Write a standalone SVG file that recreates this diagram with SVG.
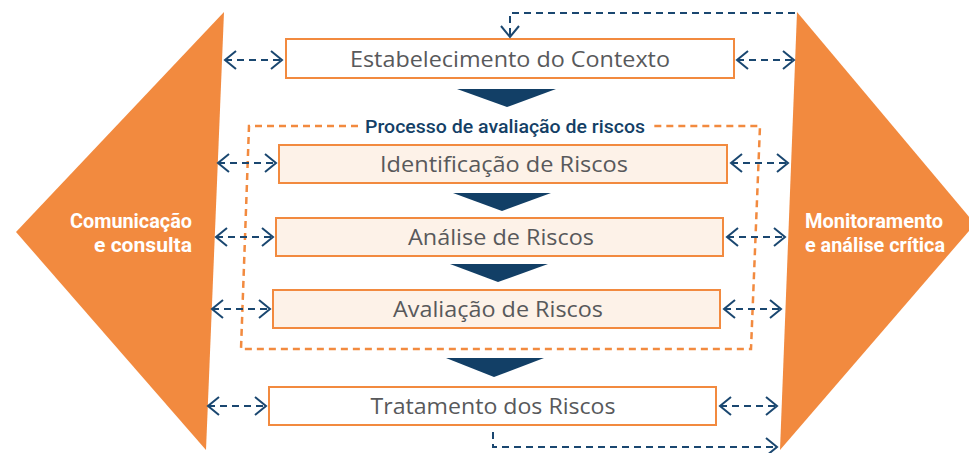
<svg xmlns="http://www.w3.org/2000/svg" width="969" height="453" viewBox="0 0 969 453">
<style>
.side{fill:#f28a3f}
.box{stroke:#f28a3f;stroke-width:2}
.w{fill:#ffffff}
.p{fill:#fdf2e8}
.bt{font-family:"Open Sans","Liberation Sans",sans-serif;font-size:21px;fill:#58595b;text-anchor:middle}
.lt{font-family:Roboto,"Liberation Sans",sans-serif;font-size:19.5px;font-weight:700;fill:#ffffff}
.tri{fill:#123f66}
.da{fill:none;stroke:#1a4770;stroke-width:2;stroke-dasharray:7 5}
.grp{fill:none;stroke:#f28a3f;stroke-width:2.5;stroke-dasharray:7 5}
.ttl{font-family:Roboto,"Liberation Sans",sans-serif;font-size:19px;font-weight:500;fill:#143f66;text-anchor:middle}
</style>
<defs>
<marker id="ah" markerUnits="userSpaceOnUse" markerWidth="24" markerHeight="24" viewBox="-14 -12 16 24" refX="0" refY="0" orient="auto-start-reverse">
<path d="M-11,-9 L0,0 L-11,9" fill="none" stroke="#1a4770" stroke-width="2"/>
</marker>
</defs>

<g id="comunicacao">
<polygon class="side" points="224,12 206,450 16,232"/>
<text class="lt" x="192" y="228" text-anchor="end" textLength="122" lengthAdjust="spacingAndGlyphs">Comunicação</text>
<text class="lt" x="192" y="252" text-anchor="end" textLength="98" lengthAdjust="spacingAndGlyphs">e consulta</text>
</g>

<g id="monitoramento">
<polygon class="side" points="797,12 975,224 780,450"/>
<text class="lt" x="805" y="228" textLength="138" lengthAdjust="spacingAndGlyphs">Monitoramento</text>
<text class="lt" x="805" y="252" textLength="140" lengthAdjust="spacingAndGlyphs">e análise crítica</text>
</g>

<g id="processo">
<path class="grp" d="M358,126 L249,126 L241,349 L751,349 L760,126 L652,126"/>
<text class="ttl" x="505" y="133" textLength="280" lengthAdjust="spacingAndGlyphs">Processo de avaliação de riscos</text>
</g>

<g id="contexto">
<rect class="box w" x="286" y="39" width="448" height="39"/>
<text class="bt" x="510" y="67" textLength="320" lengthAdjust="spacingAndGlyphs">Estabelecimento do Contexto</text>
</g>

<g id="identificacao">
<rect class="box p" x="279" y="145" width="448" height="38"/>
<text class="bt" x="504" y="172" textLength="248" lengthAdjust="spacingAndGlyphs">Identificação de Riscos</text>
</g>

<g id="analise">
<rect class="box p" x="276" y="218" width="447" height="38"/>
<text class="bt" x="501" y="245" textLength="186" lengthAdjust="spacingAndGlyphs">Análise de Riscos</text>
</g>

<g id="avaliacao">
<rect class="box p" x="273" y="290" width="447" height="38"/>
<text class="bt" x="498" y="317" textLength="210" lengthAdjust="spacingAndGlyphs">Avaliação de Riscos</text>
</g>

<g id="tratamento">
<rect class="box w" x="269" y="387" width="447" height="38"/>
<text class="bt" x="493" y="414" textLength="245" lengthAdjust="spacingAndGlyphs">Tratamento dos Riscos</text>
</g>

<g id="connectors">
<polygon class="tri" points="457,89 556,89 507,107"/>
<polygon class="tri" points="453,193 551,193 502,211"/>
<polygon class="tri" points="450,264 548,264 498,282"/>
<polygon class="tri" points="446,358 544,358 494,377"/>

<line class="da" x1="225" y1="60" x2="282" y2="60" marker-start="url(#ah)" marker-end="url(#ah)"/>
<line class="da" x1="218" y1="163" x2="276" y2="163" marker-start="url(#ah)" marker-end="url(#ah)"/>
<line class="da" x1="216" y1="237" x2="273" y2="237" marker-start="url(#ah)" marker-end="url(#ah)"/>
<line class="da" x1="212" y1="309" x2="270" y2="309" marker-start="url(#ah)" marker-end="url(#ah)"/>
<line class="da" x1="208" y1="406" x2="266" y2="406" marker-start="url(#ah)" marker-end="url(#ah)"/>

<line class="da" x1="737" y1="60" x2="794" y2="60" marker-start="url(#ah)" marker-end="url(#ah)"/>
<line class="da" x1="731" y1="163" x2="788" y2="163" marker-start="url(#ah)" marker-end="url(#ah)"/>
<line class="da" x1="727" y1="237" x2="785" y2="237" marker-start="url(#ah)" marker-end="url(#ah)"/>
<line class="da" x1="724" y1="309" x2="781" y2="309" marker-start="url(#ah)" marker-end="url(#ah)"/>
<line class="da" x1="720" y1="406" x2="777" y2="406" marker-start="url(#ah)" marker-end="url(#ah)"/>

<polyline class="da" points="795,13 510,13 510,37" marker-end="url(#ah)"/>
<polyline class="da" points="493,432 493,447 777,447" marker-end="url(#ah)"/>
</g>
</svg>
